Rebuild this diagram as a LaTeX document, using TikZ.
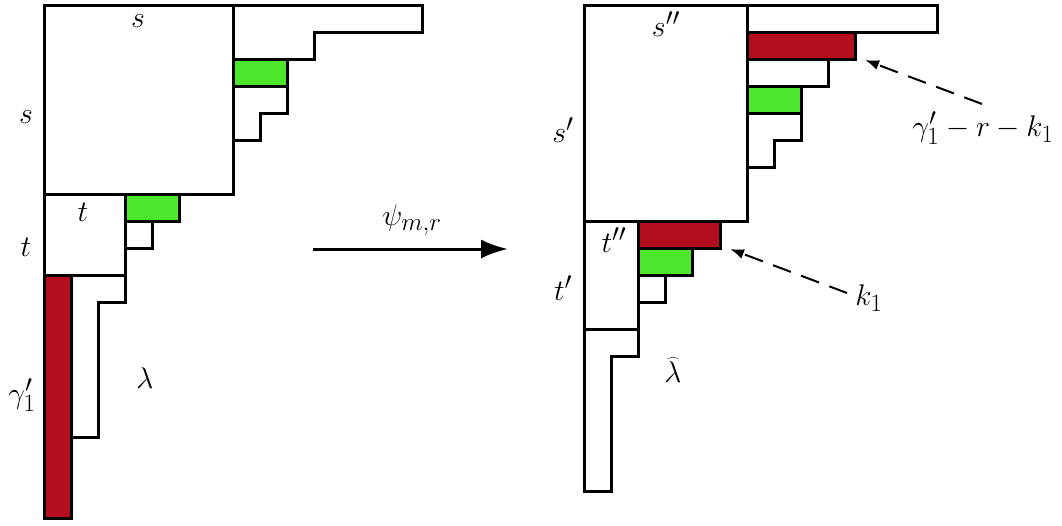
\documentclass[tikz,border=0pt]{standalone}
\usepackage{graphicx}
\usetikzlibrary{arrows.meta}
\definecolor{cellred}{RGB}{178,14,30}
\definecolor{cellgreen}{RGB}{76,230,42}
\newcommand{\biglbl}[1]{\scalebox{1.2}{$#1$}}
\begin{document}
\begin{tikzpicture}[x=1pt,y=-1pt,
  cell/.style={draw=black,line width=3pt,line join=miter},
  redcell/.style={cell,fill=cellred},
  greencell/.style={cell,fill=cellgreen},
  lbl/.style={font=\fontsize{24.88}{30}\selectfont,inner sep=0pt},
  mainarrow/.style={line width=3pt,-{Latex[length=27pt,width=19pt]}},
  hintarrow/.style={line width=2pt,dash pattern=on 19pt off 11pt,-{Latex[length=14pt,width=10pt]}}]
\useasboundingbox (0,0) rectangle (1062,525);
% ---------- left diagram (lambda) ----------
\draw[cell] (44,5) rectangle (233,194);
\draw[cell] (233,5) -- (422,5) -- (422,32) -- (314,32) -- (314,59) -- (233,59);
\draw[greencell] (233,59) rectangle (287,86);
\draw[cell] (233,86) -- (287,86) -- (287,113) -- (260,113) -- (260,140) -- (233,140);
\draw[cell] (44,194) rectangle (125,275);
\draw[greencell] (125,194) rectangle (179,221);
\draw[cell] (125,221) -- (152,221) -- (152,248) -- (125,248);
\draw[redcell] (44,275) rectangle (71,518);
\draw[cell] (71,275) -- (125,275) -- (125,302) -- (98,302) -- (98,437) -- (71,437);
\node[lbl] (sTop) at (138,21) {\biglbl{s}};
\node[lbl] (sLeft) at (26,117) {\biglbl{s}};
\node[lbl] (tIn) at (83,212) {\biglbl{t}};
\node[lbl] (tLeft) at (26,247) {\biglbl{t}};
\node[lbl] (gamLeft) at (22,395) {\biglbl{\gamma_1'}};
\node[lbl] (lam) at (145,378) {\biglbl{\lambda}};
% ---------- map arrow ----------
\coordinate (psiA) at (313,249);
\coordinate (psiB) at (508,249);
\draw[mainarrow] (psiA) -- (psiB);
\node[lbl] (psi) at (412,220) {\biglbl{\psi_{m,r}}};
% ---------- right diagram (lambda hat) ----------
\draw[cell] (584,5) rectangle (747,221);
\draw[cell] (747,5) rectangle (937,32);
\draw[redcell] (747,32) rectangle (855,59);
\draw[cell] (747,59) -- (828,59) -- (828,86) -- (747,86);
\draw[greencell] (747,86) rectangle (801,113);
\draw[cell] (801,113) -- (801,140) -- (774,140) -- (774,167) -- (747,167);
\draw[cell] (584,221) rectangle (638,329);
\draw[redcell] (638,221) rectangle (720,248);
\draw[greencell] (638,248) rectangle (692,275);
\draw[cell] (638,275) -- (665,275) -- (665,302) -- (638,302);
\draw[cell] (584,329) -- (638,329) -- (638,356) -- (611,356) -- (611,491) -- (584,491) -- cycle;
\node[lbl] (sdd) at (666,24) {\biglbl{s''}};
\node[lbl] (sd) at (563,130) {\biglbl{s'}};
\node[lbl] (tdd) at (614,240) {\biglbl{t''}};
\node[lbl] (td) at (563,288) {\biglbl{t'}};
\node[lbl] (lamhat) at (673,370) {\biglbl{\widehat{\lambda}}};
\node[lbl] (glab) at (983,128) {\biglbl{\gamma_1' - r - k_1}};
\node[lbl] (klab) at (869,298) {\biglbl{k_1}};
\coordinate (tipA) at (865,60);
\coordinate (tailA) at (982,104);
\coordinate (tipB) at (730,249);
\coordinate (tailB) at (847,293);
\draw[hintarrow] (tailA) -- (tipA);
\draw[hintarrow] (tailB) -- (tipB);
\end{tikzpicture}
\end{document}
